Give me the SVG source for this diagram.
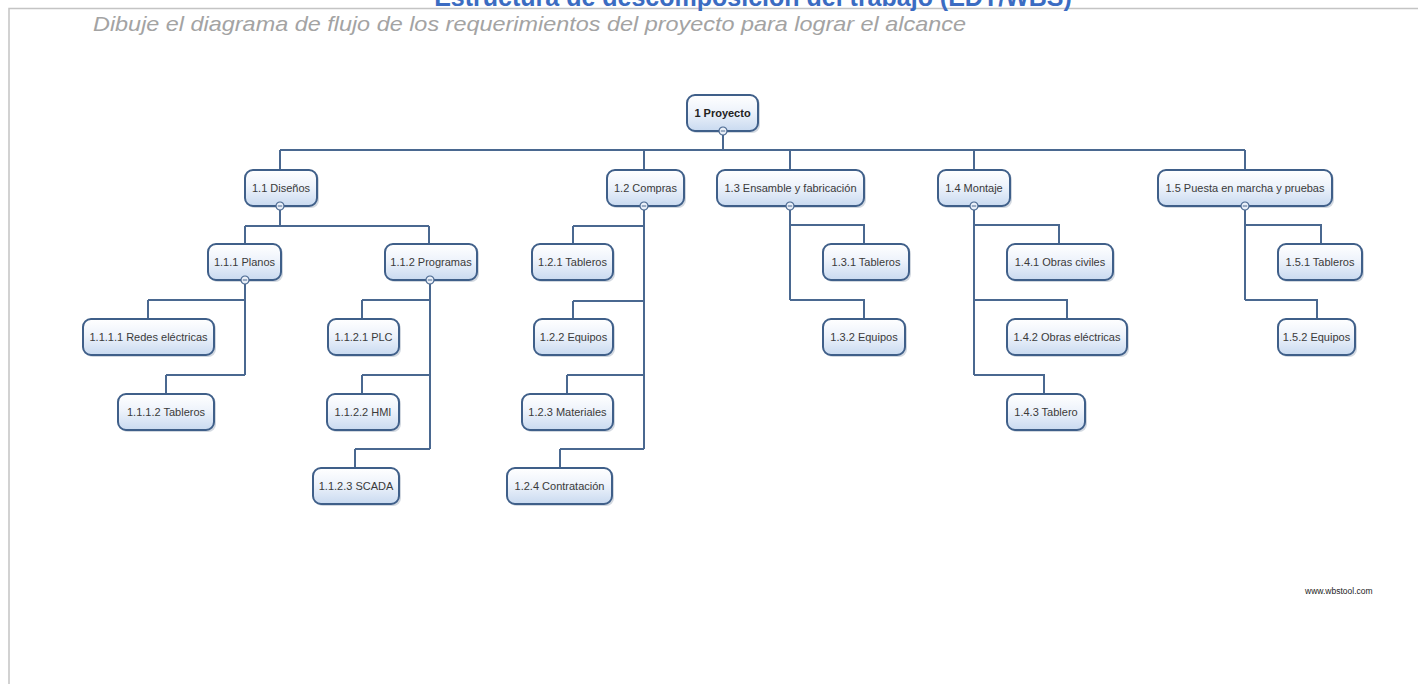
<svg xmlns="http://www.w3.org/2000/svg" width="1418" height="684" viewBox="0 0 1418 684">
  <defs>
    <linearGradient id="nodeFill" x1="0" y1="0" x2="0" y2="1">
      <stop offset="0" stop-color="#ffffff"/>
      <stop offset="0.45" stop-color="#eef3fb"/>
      <stop offset="1" stop-color="#c9daf0"/>
    </linearGradient>
    <g id="toggle">
      <circle r="4" fill="#e9eff8" stroke="#4a6890" stroke-width="1.2"/>
      <line x1="-2.2" y1="0" x2="2.2" y2="0" stroke="#4a6890" stroke-width="1"/>
    </g>
  </defs>
  <style>
    .frame { fill: none; stroke: #c4c4c4; stroke-width: 1.5; }
    .title { font-family: "Liberation Sans", Arial, sans-serif; font-weight: bold; font-size: 25px; fill: #3b6cc2; }
    .subtitle { font-family: "Liberation Sans", Arial, sans-serif; font-style: italic; font-size: 21px; fill: #a3a3a3; }
    .box { fill: url(#nodeFill); stroke: #3f5f89; stroke-width: 2; }
    .shadow { fill: #7f8fa6; opacity: 0.35; }
    .label { font-family: "Liberation Sans", Arial, sans-serif; font-size: 11px; fill: #3a3a3a; text-anchor: middle; dominant-baseline: central; }
    .root { font-weight: bold; fill: #222; }
    .link { fill: none; stroke: #4a6890; stroke-width: 2; }
    .footer { font-family: "Liberation Sans", Arial, sans-serif; font-size: 8.5px; fill: #222; }
  </style>

  <rect width="1418" height="684" fill="#ffffff"/>
  <path class="frame" d="M9 684 V8.5 H1418"/>
  <text class="title" x="753" y="6" text-anchor="middle">Estructura de descomposición del trabajo (EDT/WBS)</text>
  <text class="subtitle" x="93" y="31" textLength="873" lengthAdjust="spacingAndGlyphs">Dibuje el diagrama de flujo de los requerimientos del proyecto para lograr el alcance</text>

  <!-- tree connectors -->
  <g id="connectors">
    <path class="link" d="M723 131 V150 M280 150 H1245 M280 150 V170 M644 150 V170 M790 150 V170 M974 150 V170 M1245 150 V170"/>
    <path class="link" d="M280 206 V226 M245 226 H429 M245 226 V244 M429 226 V244"/>
    <path class="link" d="M245 280 V375 M148 300 H245 M148 300 V319 M166 375 H245 M166 375 V394"/>
    <path class="link" d="M430 280 V449 M362 300 H430 M362 300 V319 M362 375 H430 M362 375 V394 M355 449 H430 M355 449 V468"/>
    <path class="link" d="M644 206 V449 M573 226 H644 M573 226 V244 M573 301 H644 M573 301 V319 M567 375 H644 M567 375 V394 M560 449 H644 M560 449 V468"/>
    <path class="link" d="M790 206 V300 M790 225 H864 V244 M790 300 H864 V319"/>
    <path class="link" d="M974 206 V375 M974 225 H1059 V244 M974 300 H1067 V319 M974 375 H1044 V394"/>
    <path class="link" d="M1245 206 V300 M1245 225 H1321 V244 M1245 300 H1317 V319"/>
  </g>

  <!-- root -->
  <g id="n1">
    <rect class="shadow" x="689" y="97" width="71" height="36" rx="8"/>
    <rect class="box" x="687" y="95" width="71" height="36" rx="8"/>
    <text class="label root" x="722.5" y="113">1 Proyecto</text>
    <use href="#toggle" x="723" y="131"/>
  </g>

  <!-- level 1 -->
  <g id="n1_1">
    <rect class="shadow" x="247" y="172" width="72" height="36" rx="8"/>
    <rect class="box" x="245" y="170" width="72" height="36" rx="8"/>
    <text class="label" x="281" y="188">1.1 Diseños</text>
    <use href="#toggle" x="280" y="206"/>
  </g>
  <g id="n1_2">
    <rect class="shadow" x="609" y="172" width="77" height="36" rx="8"/>
    <rect class="box" x="607" y="170" width="77" height="36" rx="8"/>
    <text class="label" x="645.5" y="188">1.2 Compras</text>
    <use href="#toggle" x="644" y="206"/>
  </g>
  <g id="n1_3">
    <rect class="shadow" x="719" y="172" width="147" height="36" rx="8"/>
    <rect class="box" x="717" y="170" width="147" height="36" rx="8"/>
    <text class="label" x="790.5" y="188">1.3 Ensamble y fabricación</text>
    <use href="#toggle" x="790" y="206"/>
  </g>
  <g id="n1_4">
    <rect class="shadow" x="940" y="172" width="72" height="36" rx="8"/>
    <rect class="box" x="938" y="170" width="72" height="36" rx="8"/>
    <text class="label" x="974" y="188">1.4 Montaje</text>
    <use href="#toggle" x="974" y="206"/>
  </g>
  <g id="n1_5">
    <rect class="shadow" x="1160" y="172" width="174" height="36" rx="8"/>
    <rect class="box" x="1158" y="170" width="174" height="36" rx="8"/>
    <text class="label" x="1245" y="188">1.5 Puesta en marcha y pruebas</text>
    <use href="#toggle" x="1245" y="206"/>
  </g>

  <!-- 1.1 branch -->
  <g id="n1_1_1">
    <rect class="shadow" x="210" y="246" width="73" height="36" rx="8"/>
    <rect class="box" x="208" y="244" width="73" height="36" rx="8"/>
    <text class="label" x="244.5" y="262">1.1.1 Planos</text>
    <use href="#toggle" x="245" y="280"/>
  </g>
  <g id="n1_1_2">
    <rect class="shadow" x="387" y="246" width="92" height="36" rx="8"/>
    <rect class="box" x="385" y="244" width="92" height="36" rx="8"/>
    <text class="label" x="431" y="262">1.1.2 Programas</text>
    <use href="#toggle" x="430" y="280"/>
  </g>
  <g id="n1_1_1_1">
    <rect class="shadow" x="85" y="321" width="131" height="36" rx="8"/>
    <rect class="box" x="83" y="319" width="131" height="36" rx="8"/>
    <text class="label" x="148.5" y="337">1.1.1.1 Redes eléctricas</text>
  </g>
  <g id="n1_1_1_2">
    <rect class="shadow" x="120" y="396" width="96" height="36" rx="8"/>
    <rect class="box" x="118" y="394" width="96" height="36" rx="8"/>
    <text class="label" x="166" y="412">1.1.1.2 Tableros</text>
  </g>
  <g id="n1_1_2_1">
    <rect class="shadow" x="330" y="321" width="71" height="36" rx="8"/>
    <rect class="box" x="328" y="319" width="71" height="36" rx="8"/>
    <text class="label" x="363.5" y="337">1.1.2.1 PLC</text>
  </g>
  <g id="n1_1_2_2">
    <rect class="shadow" x="329" y="396" width="72" height="36" rx="8"/>
    <rect class="box" x="327" y="394" width="72" height="36" rx="8"/>
    <text class="label" x="363" y="412">1.1.2.2 HMI</text>
  </g>
  <g id="n1_1_2_3">
    <rect class="shadow" x="315" y="470" width="86" height="36" rx="8"/>
    <rect class="box" x="313" y="468" width="86" height="36" rx="8"/>
    <text class="label" x="356" y="486">1.1.2.3 SCADA</text>
  </g>

  <!-- 1.2 branch -->
  <g id="n1_2_1">
    <rect class="shadow" x="534" y="246" width="81" height="36" rx="8"/>
    <rect class="box" x="532" y="244" width="81" height="36" rx="8"/>
    <text class="label" x="572.5" y="262">1.2.1 Tableros</text>
  </g>
  <g id="n1_2_2">
    <rect class="shadow" x="536" y="321" width="79" height="36" rx="8"/>
    <rect class="box" x="534" y="319" width="79" height="36" rx="8"/>
    <text class="label" x="573.5" y="337">1.2.2 Equipos</text>
  </g>
  <g id="n1_2_3">
    <rect class="shadow" x="524" y="396" width="91" height="36" rx="8"/>
    <rect class="box" x="522" y="394" width="91" height="36" rx="8"/>
    <text class="label" x="567.5" y="412">1.2.3 Materiales</text>
  </g>
  <g id="n1_2_4">
    <rect class="shadow" x="509" y="470" width="105" height="36" rx="8"/>
    <rect class="box" x="507" y="468" width="105" height="36" rx="8"/>
    <text class="label" x="559.5" y="486">1.2.4 Contratación</text>
  </g>

  <!-- 1.3 branch -->
  <g id="n1_3_1">
    <rect class="shadow" x="825" y="246" width="86" height="36" rx="8"/>
    <rect class="box" x="823" y="244" width="86" height="36" rx="8"/>
    <text class="label" x="866" y="262">1.3.1 Tableros</text>
  </g>
  <g id="n1_3_2">
    <rect class="shadow" x="825" y="321" width="82" height="36" rx="8"/>
    <rect class="box" x="823" y="319" width="82" height="36" rx="8"/>
    <text class="label" x="864" y="337">1.3.2 Equipos</text>
  </g>

  <!-- 1.4 branch -->
  <g id="n1_4_1">
    <rect class="shadow" x="1009" y="246" width="106" height="36" rx="8"/>
    <rect class="box" x="1007" y="244" width="106" height="36" rx="8"/>
    <text class="label" x="1060" y="262">1.4.1 Obras civiles</text>
  </g>
  <g id="n1_4_2">
    <rect class="shadow" x="1009" y="321" width="120" height="36" rx="8"/>
    <rect class="box" x="1007" y="319" width="120" height="36" rx="8"/>
    <text class="label" x="1067" y="337">1.4.2 Obras eléctricas</text>
  </g>
  <g id="n1_4_3">
    <rect class="shadow" x="1009" y="396" width="78" height="36" rx="8"/>
    <rect class="box" x="1007" y="394" width="78" height="36" rx="8"/>
    <text class="label" x="1046" y="412">1.4.3 Tablero</text>
  </g>

  <!-- 1.5 branch -->
  <g id="n1_5_1">
    <rect class="shadow" x="1280" y="246" width="84" height="36" rx="8"/>
    <rect class="box" x="1278" y="244" width="84" height="36" rx="8"/>
    <text class="label" x="1320" y="262">1.5.1 Tableros</text>
  </g>
  <g id="n1_5_2">
    <rect class="shadow" x="1280" y="321" width="77" height="36" rx="8"/>
    <rect class="box" x="1278" y="319" width="77" height="36" rx="8"/>
    <text class="label" x="1316.5" y="337">1.5.2 Equipos</text>
  </g>

  <text class="footer" x="1305" y="594">www.wbstool.com</text>
</svg>
